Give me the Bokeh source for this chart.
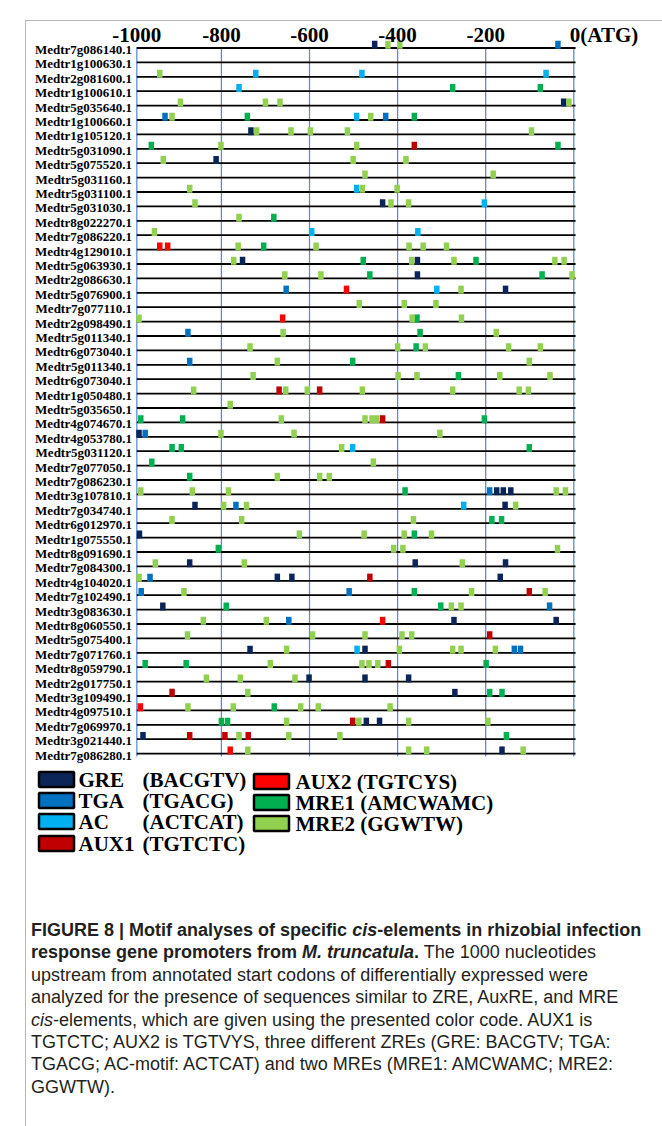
from bokeh.plotting import figure
from bokeh.models import Range1d, Div
from bokeh.layouts import column
from bokeh.embed import file_html
from bokeh.resources import INLINE
from bokeh.core.properties import value

# ---------------- data ----------------
genes = [
    "Medtr7g086140.1", "Medtr1g100630.1", "Medtr2g081600.1", "Medtr1g100610.1",
    "Medtr5g035640.1", "Medtr1g100660.1", "Medtr1g105120.1", "Medtr5g031090.1",
    "Medtr5g075520.1", "Medtr5g031160.1", "Medtr5g031100.1", "Medtr5g031030.1",
    "Medtr8g022270.1", "Medtr7g086220.1", "Medtr4g129010.1", "Medtr5g063930.1",
    "Medtr2g086630.1", "Medtr5g076900.1", "Medtr7g077110.1", "Medtr2g098490.1",
    "Medtr5g011340.1", "Medtr6g073040.1", "Medtr5g011340.1", "Medtr6g073040.1",
    "Medtr1g050480.1", "Medtr5g035650.1", "Medtr4g074670.1", "Medtr4g053780.1",
    "Medtr5g031120.1", "Medtr7g077050.1", "Medtr7g086230.1", "Medtr3g107810.1",
    "Medtr7g034740.1", "Medtr6g012970.1", "Medtr1g075550.1", "Medtr8g091690.1",
    "Medtr7g084300.1", "Medtr4g104020.1", "Medtr7g102490.1", "Medtr3g083630.1",
    "Medtr8g060550.1", "Medtr5g075400.1", "Medtr7g071760.1", "Medtr8g059790.1",
    "Medtr2g017750.1", "Medtr3g109490.1", "Medtr4g097510.1", "Medtr7g069970.1",
    "Medtr3g021440.1", "Medtr7g086280.1",
]

tick_values = [-1000, -800, -600, -400, -200]
tick_labels = ["-1000", "-800", "-600", "-400", "-200"]
zero_label = "0(ATG)"
grid_positions = [-800, -600, -400, -200, 0]

# (row number, position relative to ATG)
GRE = [(1, -452), (5, -23), (7, -733), (9, -812), (12, -434), (16, -752), (16, -355),
       (17, -355), (18, -155), (28, -987), (32, -175), (32, -160), (32, -143), (33, -860),
       (33, -156), (35, -986), (37, -872), (37, -360), (37, -155), (38, -673), (38, -640),
       (38, -167), (40, -933), (41, -272), (41, -40), (43, -735), (43, -474), (45, -601),
       (45, -474), (45, -375), (46, -270), (48, -471), (48, -441), (49, -978), (50, -163)]
TGA = [(1, -36), (6, -928), (6, -427), (18, -653), (21, -876), (23, -872), (28, -973),
       (32, -191), (33, -767), (38, -962), (39, -982), (39, -510), (40, -55), (41, -647),
       (43, -135), (43, -121)]
AC = [(3, -722), (3, -481), (3, -63), (4, -760), (6, -493), (11, -493), (12, -203),
      (14, -595), (14, -354), (18, -311), (29, -502), (33, -250), (43, -492)]
AUX1 = [(8, -362), (25, -669), (25, -577), (27, -434), (38, -463), (39, -101), (42, -191),
        (44, -421), (46, -912), (48, -502), (49, -872), (49, -792), (49, -739)]
AUX2 = [(15, -940), (15, -922), (18, -516), (20, -661), (41, -434), (47, -984), (50, -780)]
MRE1 = [(4, -275), (4, -76), (6, -741), (6, -362), (8, -959), (8, -36), (13, -681),
        (15, -704), (16, -478), (16, -222), (17, -463), (17, -72), (20, -356), (21, -349),
        (22, -358), (23, -502), (24, -262), (27, -983), (27, -888), (27, -203), (29, -912),
        (29, -891), (29, -101), (30, -958), (31, -872), (32, -383), (34, -186), (34, -164),
        (35, -362), (36, -807), (39, -362), (40, -789), (40, -302), (44, -973), (44, -880),
        (44, -199), (46, -191), (46, -163), (47, -680), (48, -800), (48, -786), (49, -153)]
MRE2 = [(1, -422), (1, -395), (3, -940), (5, -893), (5, -700), (5, -667), (5, -11),
        (6, -912), (6, -461), (7, -720), (7, -642), (7, -598), (7, -514), (7, -96),
        (8, -801), (8, -493), (9, -932), (9, -501), (9, -381), (10, -474), (10, -183),
        (11, -872), (11, -480), (11, -401), (12, -860), (12, -415), (12, -375), (13, -760),
        (14, -952), (15, -762), (15, -585), (15, -374), (15, -342), (15, -289),
        (16, -772), (16, -368), (16, -272), (16, -43), (16, -22), (17, -656), (17, -574),
        (17, -4), (18, -256), (19, -487), (19, -385), (19, -313), (20, -987), (20, -367),
        (20, -255), (21, -660), (21, -176), (22, -735), (22, -400), (22, -337), (22, -148),
        (22, -76), (23, -673), (23, -101), (24, -728), (24, -399), (24, -356), (24, -168),
        (24, -54), (25, -863), (25, -654), (25, -605), (25, -480), (25, -275), (25, -124),
        (25, -103), (26, -780), (27, -664), (27, -474), (27, -458), (27, -447),
        (28, -801), (28, -635), (28, -304), (29, -527), (30, -455), (31, -673), (31, -577),
        (31, -555), (32, -983), (32, -866), (32, -784), (32, -40), (32, -19), (33, -795),
        (33, -743), (33, -132), (34, -912), (34, -754), (34, -364), (35, -623), (35, -476),
        (35, -385), (35, -323), (36, -409), (36, -388), (36, -37), (37, -950), (37, -748),
        (37, -253), (38, -987), (39, -885), (39, -232), (39, -65), (40, -278), (40, -256),
        (41, -841), (41, -698), (42, -877), (42, -593), (42, -474), (42, -390), (42, -368),
        (43, -652), (43, -396), (43, -275), (43, -256), (43, -178), (44, -689), (44, -481),
        (44, -465), (44, -445), (45, -834), (45, -757), (45, -633), (46, -740),
        (47, -876), (47, -773), (47, -620), (47, -580), (47, -417), (48, -652), (48, -488),
        (48, -375), (48, -195), (49, -760), (49, -647), (49, -531), (50, -740), (50, -375),
        (50, -334), (50, -115)]

motif_names = ["GRE", "TGA", "AC", "AUX1", "AUX2", "MRE1", "MRE2"]
motif_seqs = ["(BACGTV)", "(TGACG)", "(ACTCAT)", "(TGTCTC)", "(TGTCYS)", "(AMCWAMC)", "(GGWTW)"]
motif_data = [GRE, TGA, AC, AUX1, AUX2, MRE1, MRE2]
motif_colors = ["#0c2559", "#0070c0", "#00b0f0", "#c00000", "#ff0000", "#00b050", "#92d050"]

# ---------------- geometry (page pixels) ----------------
BOX_LEFT, BOX_TOP = 25, 20
FIG_LEFT, FIG_TOP = BOX_LEFT + 1, BOX_TOP + 1
FIG_W, FIG_H = 634, 893
CAP_H = 206
PX_PER_NT = 0.4405
X0_PAGE = 573.3                     # page x of position 0
ROW1_PAGE = 47.5                    # page y of first row line
ROW_PX = 14.4


def xd(px):
    return (px - X0_PAGE) / PX_PER_NT


def yd(py):
    return 1 + (py - ROW1_PAGE) / ROW_PX


p = figure(width=FIG_W, height=FIG_H,
           x_range=Range1d(xd(FIG_LEFT), xd(FIG_LEFT + FIG_W)),
           y_range=Range1d(yd(FIG_TOP + FIG_H), yd(FIG_TOP)),
           output_backend="svg", toolbar_location=None,
           x_axis_location=None, y_axis_location=None, min_border=0)
p.grid.visible = False
p.outline_line_color = None
p.background_fill_color = "white"
p.border_fill_color = "white"

serif = value("Liberation Serif")
n = len(genes)
rows = list(range(1, n + 1))
line_start, line_end = -992, 4

# vertical guide lines
vx = [line_start] + grid_positions
p.segment(x0=vx, y0=[0.95] * len(vx), x1=vx, y1=[n + 0.2] * len(vx),
          line_color="#5b8fd3", line_width=1.3)

# promoter lines
p.segment(x0=[line_start] * n, y0=rows, x1=[line_end] * n, y1=rows,
          line_color="black", line_width=1.8)

# motif markers
for name, data, color in zip(motif_names, motif_data, motif_colors):
    xs = [pos for r, pos in data]
    ys = [r - 0.22 for r, pos in data]
    p.rect(x=xs, y=ys, width=5.5, height=8, width_units="screen", height_units="screen",
           fill_color=color, line_color=None)

# gene labels
p.text(x=[xd(131.5)] * n, y=[r + 0.1 for r in rows], text=genes, text_font=serif,
       text_font_style="bold", text_font_size="13px", text_align="right",
       text_baseline="middle", text_color="black")

# top position labels
label_y = yd(34.5)
p.text(x=[line_start] + tick_values[1:], y=[label_y] * len(tick_values), text=tick_labels,
       text_font=serif, text_font_style="bold", text_font_size="21px", text_align="center",
       text_baseline="middle", text_color="black")
p.text(x=[0], y=[label_y], text=[zero_label], text_font=serif, x_offset=-4,
       text_font_style="bold", text_font_size="21px", text_align="left",
       text_baseline="middle", text_color="black")

# legend (drawn)
left_y = [779, 800, 821, 843]
right_y = [781, 802, 823]
box_x = [56] * 4 + [271] * 3
box_y = left_y + right_y
p.rect(x=[xd(v) for v in box_x], y=[yd(v) for v in box_y], width=35, height=15,
       width_units="screen", height_units="screen", fill_color=motif_colors,
       line_color="black", line_width=2.5)
p.text(x=[xd(78)] * 4, y=[yd(v) for v in left_y], text=motif_names[:4], text_font=serif,
       text_font_style="bold", text_font_size="21px", text_align="left",
       text_baseline="middle", text_color="black")
p.text(x=[xd(142)] * 4, y=[yd(v) for v in left_y], text=motif_seqs[:4], text_font=serif,
       text_font_style="bold", text_font_size="21px", text_align="left",
       text_baseline="middle", text_color="black")
p.text(x=[xd(295)] * 3, y=[yd(v) for v in right_y],
       text=[a + " " + b for a, b in zip(motif_names[4:], motif_seqs[4:])], text_font=serif,
       text_font_style="bold", text_font_size="21px", text_align="left",
       text_baseline="middle", text_color="black")

caption_lines = [
    "<b>FIGURE 8 | Motif analyses of specific <i>cis</i>-elements in rhizobial infection</b>",
    "<b>response gene promoters from <i>M. truncatula</i>.</b> The 1000 nucleotides",
    "upstream from annotated start codons of differentially expressed were",
    "analyzed for the presence of sequences similar to ZRE, AuxRE, and MRE",
    "<i>cis</i>-elements, which are given using the presented color code. AUX1 is",
    "TGTCTC; AUX2 is TGTVYS, three different ZREs (GRE: BACGTV; TGA:",
    "TGACG; AC-motif: ACTCAT) and two MREs (MRE1: AMCWAMC; MRE2:",
    "GGWTW).",
]
cap = Div(text="<br>".join(caption_lines), width=FIG_W, height=CAP_H,
          styles={"font-family": "'Liberation Sans', Arial, sans-serif",
                  "font-size": "18px", "line-height": "22.4px", "color": "#231f20",
                  "white-space": "nowrap", "padding-left": "0px"})

layout = column(p, cap, margin=(BOX_TOP, 0, 0, BOX_LEFT),
                styles={"border-left": "1px solid #b8b8b8", "border-top": "1px solid #b8b8b8",
                        "border-bottom": "1px solid #b8b8b8"})

with open("out.html", "w") as f:
    f.write(file_html(layout, INLINE))
